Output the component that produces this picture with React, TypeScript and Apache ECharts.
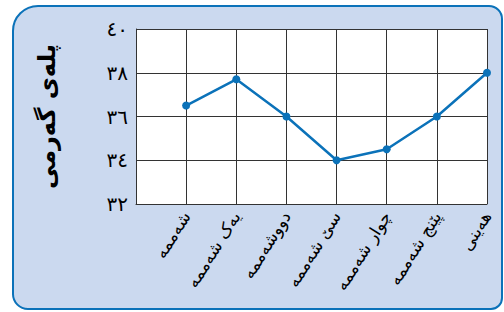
import React, { useEffect, useRef } from "react";
import * as echarts from "echarts";

const days = [
  "شەممە",
  "یەک شەممە",
  "دووشەممە",
  "سێ شەممە",
  "چوار شەممە",
  "پێنج شەممە",
  "هەینی",
];
const temps = [36.5, 37.7, 36, 34, 34.5, 36, 38];
const xTickValues = [0, 1, 2, 3, 4, 5, 6, 7];
const yTickValues = [32, 34, 36, 38, 40];
const yTickLabels = ["٣٢", "٣٤", "٣٦", "٣٨", "٤٠"];
const yTitle = "پلەی گەرمی";

const blue = "#0b72b9";

export default function App() {
  const ref = useRef<HTMLDivElement>(null);
  useEffect(() => {
    if (!ref.current) return;
    const chart = echarts.init(ref.current, null, { renderer: "svg" });
    chart.setOption({
      animation: false,
      grid: { left: 136, right: 17, top: 29, bottom: 108 },
      xAxis: {
        type: "value",
        min: 0,
        max: 7,
        interval: 1,
        axisLine: { show: true, lineStyle: { color: "#333" } },
        axisTick: { show: true, inside: true, length: 3, lineStyle: { color: "#333" } },
        splitLine: { show: true, lineStyle: { color: "#333" } },
        axisLabel: {
          rotate: 58,
          margin: 9,
          fontSize: 17,
          fontFamily: "DejaVu Sans",
          color: "#000",
          showMinLabel: false,
          showMaxLabel: true,
          formatter: (v: number) => days[v - 1] ?? "",
        },
      },
      yAxis: {
        type: "value",
        min: 32,
        max: 40,
        interval: 2,
        axisLine: { show: true, lineStyle: { color: "#333" } },
        axisTick: { show: true, inside: true, length: 3, lineStyle: { color: "#333" } },
        splitLine: { show: true, lineStyle: { color: "#333" } },
        axisLabel: {
          margin: 8,
          fontSize: 20,
          fontFamily: "DejaVu Sans",
          color: "#000",
          formatter: (v: number) => {
            const i = yTickValues.indexOf(v);
            return i >= 0 ? yTickLabels[i] : "";
          },
        },
        name: yTitle,
        nameLocation: "middle",
        nameRotate: 90,
        nameGap: 77,
        nameTextStyle: {
          fontSize: 24,
          fontWeight: "bold",
          fontFamily: "DejaVu Sans",
          color: "#000",
        },
      },
      series: [
        {
          type: "line",
          data: [],
          z: 1,
          silent: true,
          markLine: {
            silent: true,
            symbol: ["none", "none"],
            label: { show: false },
            lineStyle: { color: "#333", width: 1, type: "solid" },
            emphasis: { disabled: true },
            data: [
              ...yTickValues.map((v) => ({ yAxis: v })),
              ...xTickValues.map((v) => ({ xAxis: v })),
            ],
          },
        },
        {
          type: "line",
          data: temps.map((t, i) => [i + 1, t]),
          lineStyle: { color: blue, width: 2.5 },
          itemStyle: { color: blue },
          symbol: "circle",
          symbolSize: 8,
          z: 5,
        },
      ],
    });
    return () => chart.dispose();
  }, []);
  return (
    <div style={{ position: "absolute", left: 0, top: 0, width: 504, height: 312 }}>
      <div
        style={{
          position: "absolute",
          left: 12,
          top: 5,
          width: 491,
          height: 305,
          boxSizing: "border-box",
          border: `2.5px solid ${blue}`,
          borderRadius: "26px 14px 12px 16px",
          background: "#cbd9ef",
        }}
      />
      <div
        style={{
          position: "absolute",
          left: 136,
          top: 29,
          width: 351,
          height: 175,
          background: "#ffffff",
        }}
      />
      <div ref={ref} style={{ position: "absolute", left: 0, top: 0, width: 504, height: 312 }} />
    </div>
  );
}
